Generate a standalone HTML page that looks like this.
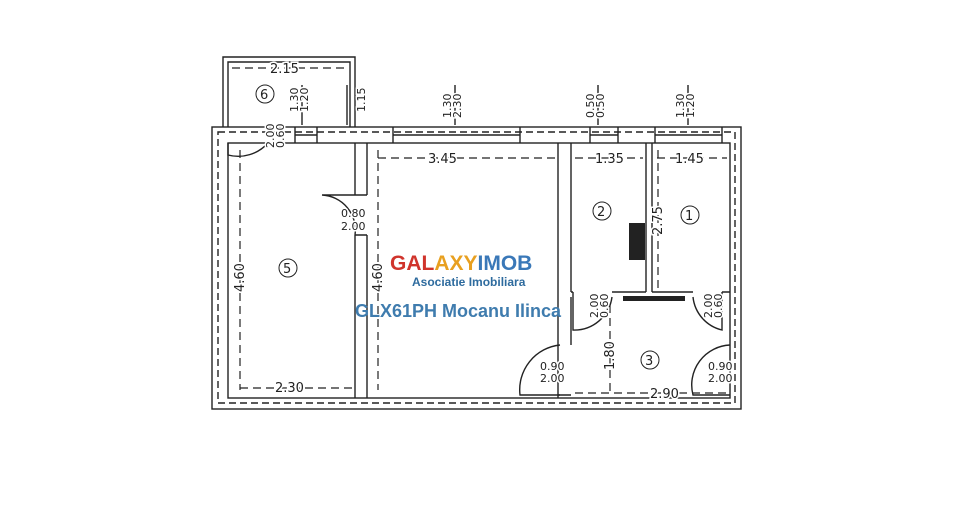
<!DOCTYPE html>
<html><head><meta charset="utf-8"><style>
html,body{margin:0;padding:0;background:#fff;width:964px;height:530px;overflow:hidden}
svg{display:block}
text{font-family:"DejaVu Sans","Liberation Sans",sans-serif;fill:#222;paint-order:stroke;stroke:#fff;stroke-width:3px}
</style></head><body>
<svg width="964" height="530" viewBox="0 0 964 530" xmlns="http://www.w3.org/2000/svg">
<g stroke="#222" stroke-width="1.4" fill="none">
<rect x="212" y="127" width="529" height="282"/>
<rect x="218" y="132" width="517" height="271" stroke-dasharray="7,4"/>
<rect x="228" y="143" width="502" height="255"/>
<path d="M223 127 V57 H355 V127"/>
<path d="M228 127 V62 H350 V127"/>
<path d="M295 127 V143 M317 127 V143 M295 135 H317"/>
<path d="M393 127 V143 M520 127 V143 M393 135 H520"/>
<path d="M590 127 V143 M618 127 V143 M590 135 H618"/>
<path d="M655 127 V143 M722 127 V143 M655 135 H722"/>
<path d="M355 143 V195 M367 143 V195 M355 195 H367"/>
<path d="M355 235 V398 M367 235 V398 M355 235 H367"/>
<path d="M558 143 V398 M571 143 V292"/>
<path d="M646 143 V292 M652 143 V292"/>
<path d="M571 292 H573 M612 292 H646 M652 292 H693 M722 292 H730"/>
<path d="M571 297 V345 M558 395 H571"/>
<path d="M228 143 V155 A40 40 0 0 0 268 143"/>
<path d="M355 195 H322 A35 35 0 0 1 355 235" />
<path d="M573 292 V330 A38 38 0 0 0 612 297" />
<path d="M722 292 V330 A38 38 0 0 1 693 297" />
<path d="M560 345 A45 45 0 0 0 520 395 H560"/>
<path d="M730 345 A40 40 0 0 0 693 395 H730"/>
<g stroke-dasharray="8,5" stroke-width="1.2">
<path d="M232 68 H345"/>
<path d="M378 158 H555"/>
<path d="M575 158 H643"/>
<path d="M657 158 H727"/>
<path d="M240 150 V390"/>
<path d="M378 150 V390"/>
<path d="M658 150 V290"/>
<path d="M610 305 V395"/>
<path d="M240 388 H352"/>
<path d="M575 393 H727"/>
</g>
<path d="M302 85 V125 M347 85 V125 M455 85 V125 M598 85 V125 M688 85 V125"/>
</g>
<rect x="629" y="223" width="16" height="37" fill="#222"/>
<rect x="623" y="296" width="62" height="5" fill="#222"/>
<g font-size="13">
<circle cx="265" cy="94" r="9" fill="none" stroke="#222"/><text x="260" y="99">6</text>
<circle cx="288" cy="268" r="9" fill="none" stroke="#222"/><text x="283" y="273">5</text>
<circle cx="602" cy="211" r="9" fill="none" stroke="#222"/><text x="597" y="216">2</text>
<circle cx="690" cy="215" r="9" fill="none" stroke="#222"/><text x="685" y="220">1</text>
<circle cx="650" cy="360" r="9" fill="none" stroke="#222"/><text x="645" y="365">3</text>
<text x="270" y="73">2.15</text>
<text x="428" y="163">3.45</text>
<text x="595" y="163">1.35</text>
<text x="675" y="163">1.45</text>
<text x="275" y="392">2.30</text>
<text x="650" y="398">2.90</text>
<text x="341" y="217" font-size="11">0.80</text>
<text x="341" y="230" font-size="11">2.00</text>
<text x="540" y="370" font-size="11">0.90</text>
<text x="540" y="382" font-size="11">2.00</text>
<text x="708" y="370" font-size="11">0.90</text>
<text x="708" y="382" font-size="11">2.00</text>
</g>
<g font-size="11">
<text transform="translate(244,292) rotate(-90)" font-size="13">4.60</text>
<text transform="translate(382,292) rotate(-90)" font-size="13">4.60</text>
<text transform="translate(662,235) rotate(-90)" font-size="13">2.75</text>
<text transform="translate(614,370) rotate(-90)" font-size="13">1.80</text>
<text transform="translate(365,112) rotate(-90)">1.15</text>
<text transform="translate(298,112) rotate(-90)">1.30</text>
<text transform="translate(308,112) rotate(-90)">1.20</text>
<text transform="translate(451,118) rotate(-90)">1.30</text>
<text transform="translate(461,118) rotate(-90)">2.30</text>
<text transform="translate(594,118) rotate(-90)">0.50</text>
<text transform="translate(604,118) rotate(-90)">0.50</text>
<text transform="translate(684,118) rotate(-90)">1.30</text>
<text transform="translate(694,118) rotate(-90)">1.20</text>
<text transform="translate(274,148) rotate(-90)">2.00</text>
<text transform="translate(284,148) rotate(-90)">0.60</text>
<text transform="translate(598,318) rotate(-90)">2.00</text>
<text transform="translate(608,318) rotate(-90)">0.60</text>
<text transform="translate(712,318) rotate(-90)">2.00</text>
<text transform="translate(722,318) rotate(-90)">0.60</text>
</g>
<text x="390" y="270" font-size="21" font-weight="bold" style="font-family:'Liberation Sans',sans-serif;stroke:none"><tspan style="fill:#d0342c">GAL</tspan><tspan style="fill:#e8a020">AXY</tspan><tspan style="fill:#3a78b8">IMOB</tspan></text>
<text x="412" y="286" font-size="12" font-weight="bold" style="font-family:'Liberation Sans',sans-serif;fill:#2e6b9e;stroke:none">Asociatie Imobiliara</text>
<text x="355" y="317" font-size="18" font-weight="bold" style="font-family:'Liberation Sans',sans-serif;fill:#3f7cae;stroke:none">GLX61PH Mocanu Ilinca</text>
</svg>
</body></html>
